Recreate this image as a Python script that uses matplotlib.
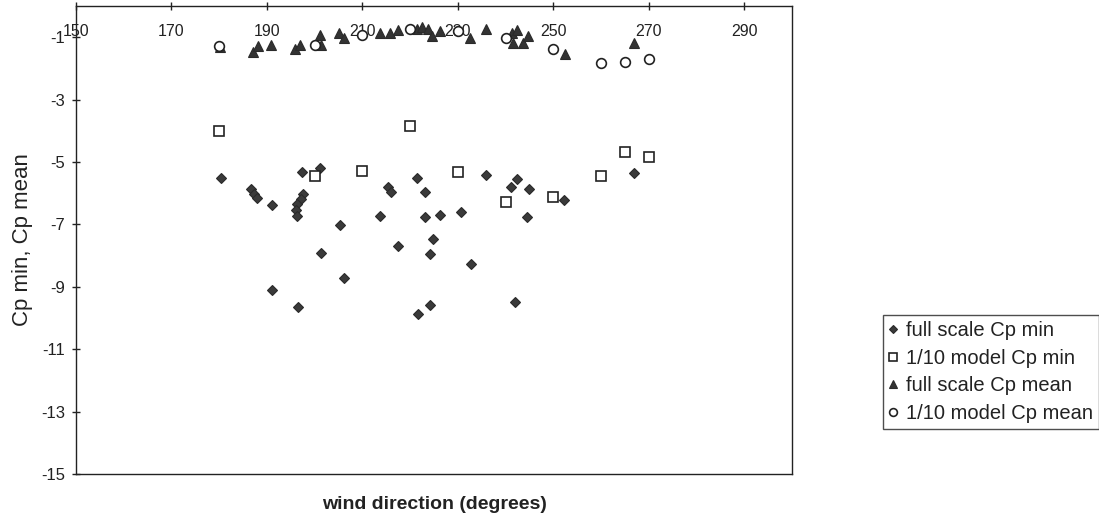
import matplotlib
matplotlib.use("Agg")
import matplotlib.pyplot as plt

plt.rcParams['font.family'] = ['Liberation Sans', 'DejaVu Sans']

# full scale Cp min (diamonds)
fs_min_dir = [180.3, 186.6, 187.3, 187.9, 191.0, 191.1, 197.3, 197.6, 197.2, 196.3,
              196.1, 196.3, 196.6, 201.1, 201.3, 205.3, 206.1, 213.7, 215.3, 215.9,
              217.4, 221.5, 223.1, 223.1, 226.2, 224.8, 224.2, 224.1, 221.6, 230.6,
              232.7, 235.9, 242.4, 241.1, 245.0, 244.5, 242.0, 252.2, 266.9]
fs_min_cp = [-5.50, -5.87, -6.02, -6.14, -6.39, -9.09, -5.33, -6.01, -6.18, -6.36,
             -6.54, -6.72, -9.66, -5.19, -7.91, -7.01, -8.72, -6.73, -5.80, -5.95,
             -7.70, -5.52, -5.96, -6.77, -6.69, -7.46, -7.96, -9.59, -9.88, -6.59,
             -8.26, -5.42, -5.54, -5.81, -5.87, -6.77, -9.48, -6.21, -5.35]

# 1/10 model Cp min (open squares)
mod_min_dir = [180, 200, 210, 220, 230, 240, 250, 260, 265, 270]
mod_min_cp = [-4.0, -5.45, -5.28, -3.84, -5.32, -6.29, -6.12, -5.46, -4.68, -4.83]

# full scale Cp mean (triangles)
fs_mean_dir = [180.1, 187.1, 188.1, 190.8, 195.9, 196.9, 201.4, 201.2, 205.2, 206.2,
               213.6, 215.7, 217.4, 221.4, 222.4, 223.7, 224.5, 226.2, 232.5, 235.9,
               241.4, 242.4, 241.6, 243.7, 244.7, 252.5, 266.8]
fs_mean_cp = [-1.32, -1.46, -1.27, -1.24, -1.38, -1.26, -1.26, -0.93, -0.86, -1.04,
              -0.85, -0.85, -0.76, -0.75, -0.66, -0.75, -0.96, -0.80, -1.03, -0.73,
              -0.87, -0.78, -1.17, -1.17, -0.96, -1.54, -1.17]

# 1/10 model Cp mean (open circles)
mod_mean_dir = [180, 200, 210, 220, 230, 240, 250, 260, 265, 270]
mod_mean_cp = [-1.29, -1.26, -0.94, -0.75, -0.80, -1.02, -1.37, -1.83, -1.80, -1.70]

x_ticks = [150, 170, 190, 210, 230, 250, 270, 290]
y_ticks = [-15, -13, -11, -9, -7, -5, -3, -1]

W, H = 1099, 515
fig = plt.figure(figsize=(W / 100, H / 100), dpi=100)
L, R, T, B = 76, 792, 6, 474
ax = fig.add_axes([L / W, 1 - B / H, (R - L) / W, (B - T) / H])

ink = '#222222'
ax.plot(fs_min_dir, fs_min_cp, linestyle='none', marker='D', markersize=5.5,
        markerfacecolor='#3a3a3a', markeredgecolor='#2a2a2a', markeredgewidth=0.8,
        label='full scale Cp min')
ax.plot(mod_min_dir, mod_min_cp, linestyle='none', marker='s', markersize=7.0,
        markerfacecolor='white', markeredgecolor=ink, markeredgewidth=1.2,
        label='1/10 model Cp min')
ax.plot(fs_mean_dir, fs_mean_cp, linestyle='none', marker='^', markersize=7.5,
        markerfacecolor='#333333', markeredgecolor='#2a2a2a', markeredgewidth=0.8,
        label='full scale Cp mean')
ax.plot(mod_mean_dir, mod_mean_cp, linestyle='none', marker='o', markersize=7.0,
        markerfacecolor='white', markeredgecolor=ink, markeredgewidth=1.2,
        label='1/10 model Cp mean')

ax.set_xlim(150, 300)
ax.set_ylim(-15, 0)
ax.set_xticks(x_ticks)
ax.set_yticks(y_ticks)
ax.set_xticklabels([str(v) for v in x_ticks])
ax.set_yticklabels([str(v) for v in y_ticks])

ax.tick_params(axis='x', top=True, bottom=False, labeltop=True, labelbottom=False,
               direction='inout', length=6, width=1, color=ink, pad=-27,
               labelsize=11.5, labelcolor=ink)
ax.tick_params(axis='y', left=True, right=False, direction='inout', length=6,
               width=1, color=ink, pad=5, labelsize=12, labelcolor=ink)

for sp in ax.spines.values():
    sp.set_color(ink)
    sp.set_linewidth(1.0)

ax.set_xlabel('wind direction (degrees)', fontsize=14, fontweight='bold',
              color=ink, labelpad=16)
ax.set_ylabel('Cp min, Cp mean', fontsize=16, color=ink, labelpad=6)

leg = fig.legend(loc='upper left', bbox_to_anchor=(883 / W, 1 - 315 / H),
                 borderaxespad=0, frameon=True, fancybox=False, fontsize=14.5,
                 handlelength=0.35, handletextpad=0.5, labelspacing=0.43,
                 borderpad=0.3, markerscale=0.8, labelcolor=ink)
leg.get_frame().set_edgecolor(ink)
leg.get_frame().set_linewidth(1.0)

fig.savefig('out.png', dpi=100)
